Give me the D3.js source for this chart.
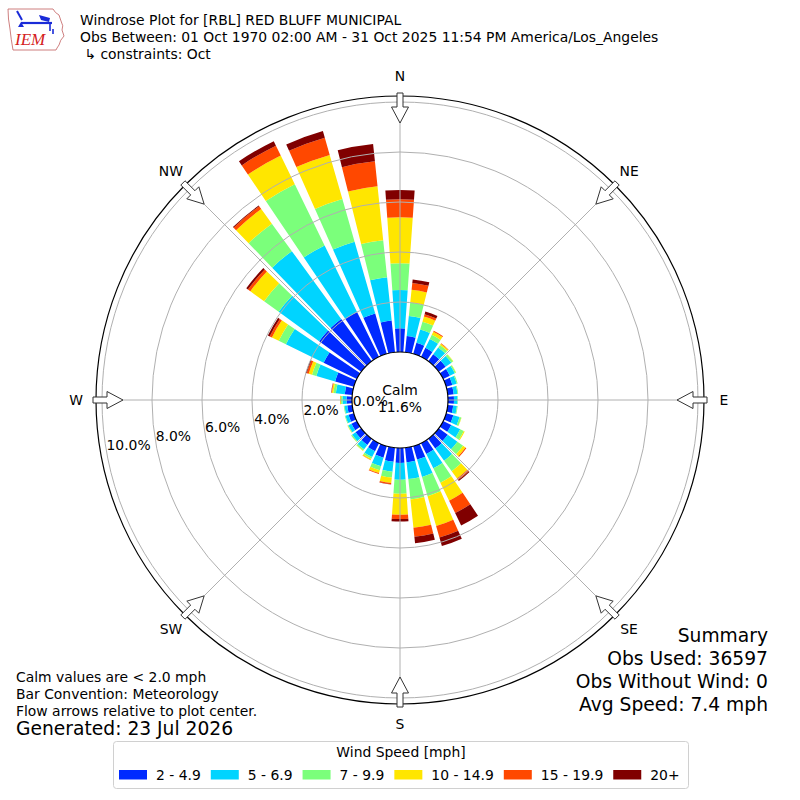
<!DOCTYPE html>
<html lang="en">
<head>
<meta charset="UTF-8">
<title>Windrose Plot for [RBL] RED BLUFF MUNICIPAL</title>
<script src="https://d3js.org/d3.v7.min.js"></script>
<style>
  body { margin: 0; background: #fff; }
  svg { display: block; font-family: 'DejaVu Sans', sans-serif; }
</style>
</head>
<body>
<div id="chart"></div>
<script>
// wind direction bins (degrees, meteorological) and speed bins
const directions = [0, 10, 20, 30, 40, 50, 60, 70, 80, 90, 100, 110,
                    120, 130, 140, 150, 160, 170, 180, 190, 200, 210, 220, 230,
                    240, 250, 260, 270, 280, 290, 300, 310, 320, 330, 340, 350];
const speedBins = ["2 - 4.9", "5 - 6.9", "7 - 9.9", "10 - 14.9", "15 - 19.9", "20+"];
const binColors = ["#002aff", "#00d4ff", "#7bff7b", "#ffe600", "#ff4800", "#800000"];

// percent of observations per direction, one array per speed bin
const pct2to5   = [0.95, 0.65, 0.46, 0.40, 0.34, 0.34, 0.30, 0.26, 0.24, 0.24, 0.22, 0.30,
                   0.36, 0.44, 0.48, 0.48, 0.56, 0.58, 0.60, 0.56, 0.48, 0.36, 0.30, 0.28,
                   0.24, 0.22, 0.20, 0.22, 0.30, 0.78, 1.48, 2.08, 2.08, 2.00, 1.68, 1.28];
const pct5to7   = [1.53, 0.81, 0.55, 0.40, 0.34, 0.28, 0.22, 0.18, 0.15, 0.14, 0.15, 0.26,
                   0.40, 0.48, 0.60, 0.64, 0.72, 0.68, 0.67, 0.41, 0.36, 0.26, 0.22, 0.17,
                   0.14, 0.13, 0.11, 0.16, 0.36, 0.78, 1.68, 2.00, 3.36, 2.96, 2.99, 1.74];
const pct7to10  = [1.07, 0.54, 0.33, 0.18, 0.12, 0.08, 0.05, 0.04, 0.03, 0.02, 0.03, 0.07,
                   0.16, 0.28, 0.52, 0.64, 0.80, 0.82, 0.56, 0.23, 0.16, 0.08, 0.06, 0.04,
                   0.03, 0.03, 0.03, 0.06, 0.10, 0.18, 0.32, 0.72, 1.36, 2.72, 1.77, 1.49];
const pct10to15 = [1.84, 0.51, 0.21, 0.14, 0.06, 0.02, 0.01, 0.00, 0.00, 0.00, 0.00, 0.01,
                   0.04, 0.12, 0.36, 0.80, 1.24, 1.14, 0.84, 0.22, 0.12, 0.05, 0.02, 0.01,
                   0.01, 0.00, 0.00, 0.03, 0.06, 0.14, 0.30, 0.68, 0.72, 1.28, 1.84, 2.17];
const pct15to20 = [0.72, 0.28, 0.10, 0.04, 0.02, 0.00, 0.00, 0.00, 0.00, 0.00, 0.00, 0.00,
                   0.00, 0.04, 0.08, 0.55, 0.48, 0.36, 0.17, 0.05, 0.04, 0.01, 0.00, 0.00,
                   0.00, 0.00, 0.00, 0.01, 0.02, 0.08, 0.10, 0.12, 0.14, 0.44, 0.71, 1.00];
const pct20plus = [0.37, 0.14, 0.11, 0.00, 0.00, 0.00, 0.00, 0.00, 0.00, 0.00, 0.00, 0.00,
                   0.00, 0.00, 0.04, 0.55, 0.36, 0.26, 0.10, 0.01, 0.00, 0.00, 0.00, 0.00,
                   0.00, 0.00, 0.00, 0.00, 0.01, 0.04, 0.08, 0.08, 0.04, 0.20, 0.28, 0.70];

const calmPct = 11.6;
const ringTicks = [0, 2, 4, 6, 8, 10];
const compassLabels = ["N", "NE", "E", "SE", "S", "SW", "W", "NW"];
const compassAngles = [0, 45, 90, 135, 180, 225, 270, 315];

const titleLines = [
  "Windrose Plot for [RBL] RED BLUFF MUNICIPAL",
  "Obs Between: 01 Oct 1970 02:00 AM - 31 Oct 2025 11:54 PM America/Los_Angeles",
  " \u21b3 constraints: Oct"
];
const noteLines = ["Calm values are < 2.0 mph", "Bar Convention: Meteorology", "Flow arrows relative to plot center."];
const generatedText = "Generated: 23 Jul 2026";
const summaryLines = ["Summary", "Obs Used: 36597", "Obs Without Wind: 0", "Avg Speed: 7.4 mph"];

const width = 800, height = 800;
const cx = 400, cy = 400;
const rad = d => d * Math.PI / 180;

const svg = d3.select("#chart").append("svg")
  .attr("width", width)
  .attr("height", height);

// table for the stack
const series = [pct2to5, pct5to7, pct7to10, pct10to15, pct15to20, pct20plus];
const rows = directions.map((dir, i) => {
  const row = { dir };
  speedBins.forEach((b, k) => row[b] = series[k][i]);
  return row;
});
const stacked = d3.stack().keys(speedBins)(rows);

// radius scale: 0% sits on the calm circle
const r = d3.scaleLinear().domain([0, 10]).range([48, 298]);
const rMax = r(10.24);

const plot = svg.append("g").attr("transform", `translate(${cx},${cy})`);

// bars
const arc = d3.arc()
  .innerRadius(d => r(d[0]))
  .outerRadius(d => r(d[1]))
  .startAngle(d => rad(d.data.dir - 4))
  .endAngle(d => rad(d.data.dir + 4));

plot.selectAll("g.bin")
  .data(stacked)
  .join("g")
  .attr("class", "bin")
  .attr("fill", (d, i) => binColors[i])
  .selectAll("path")
  .data(d => d.filter(s => s[1] - s[0] > 0))
  .join("path")
  .attr("d", arc);

// grid rings and spokes (on top of the bars)
plot.selectAll("circle.ring")
  .data(ringTicks.filter(t => t > 0))
  .join("circle")
  .attr("class", "ring")
  .attr("r", d => r(d))
  .attr("fill", "none")
  .attr("stroke", "#b0b0b0")
  .attr("stroke-width", 1);

plot.selectAll("line.spoke")
  .data(compassAngles)
  .join("line")
  .attr("x1", d => r(0) * Math.sin(rad(d)))
  .attr("y1", d => -r(0) * Math.cos(rad(d)))
  .attr("x2", d => rMax * Math.sin(rad(d)))
  .attr("y2", d => -rMax * Math.cos(rad(d)))
  .attr("stroke", "#b0b0b0")
  .attr("stroke-width", 1);

// outer frame
plot.append("circle")
  .attr("r", rMax)
  .attr("fill", "none")
  .attr("stroke", "#000")
  .attr("stroke-width", 1.2);

// calm circle
plot.append("circle")
  .attr("r", r(0))
  .attr("fill", "#fff")
  .attr("stroke", "#000")
  .attr("stroke-width", 1.2);

plot.append("text")
  .attr("text-anchor", "middle")
  .attr("y", -5)
  .attr("font-size", 13.9)
  .text("Calm");
plot.append("text")
  .attr("text-anchor", "middle")
  .attr("y", 12)
  .attr("font-size", 13.9)
  .text(calmPct.toFixed(1) + "%");

// radial tick labels along 260 degrees
const labelAngle = rad(260);
plot.selectAll("text.rlabel")
  .data(ringTicks)
  .join("text")
  .attr("class", "rlabel")
  .attr("x", d => r(d) * Math.sin(labelAngle))
  .attr("y", d => -r(d) * Math.cos(labelAngle) - 2)
  .attr("font-size", 13.9)
  .text(d => d.toFixed(1) + "%");

// flow arrows pointing to the center
const arrowShape = [[307, -3], [293, -3], [293, -8.5], [277, 0], [293, 8.5], [293, 3], [307, 3]];
plot.selectAll("path.arrow")
  .data(compassAngles)
  .join("path")
  .attr("class", "arrow")
  .attr("d", a => {
    const pts = arrowShape.map(([u, v]) => [
      u * Math.sin(rad(a)) + v * Math.cos(rad(a)),
      -u * Math.cos(rad(a)) + v * Math.sin(rad(a))
    ]);
    return "M" + pts.map(p => p.join(",")).join("L") + "Z";
  })
  .attr("fill", "#fff")
  .attr("stroke", "#333")
  .attr("stroke-width", 1);

// compass labels
plot.selectAll("text.compass")
  .data(compassLabels)
  .join("text")
  .attr("class", "compass")
  .attr("x", (d, i) => 324 * Math.sin(rad(compassAngles[i])))
  .attr("y", (d, i) => -324 * Math.cos(rad(compassAngles[i])))
  .attr("text-anchor", "middle")
  .attr("dominant-baseline", "central")
  .attr("font-size", 13.9)
  .text(d => d);

// header
svg.selectAll("text.title")
  .data(titleLines)
  .join("text")
  .attr("class", "title")
  .attr("x", 80)
  .attr("y", (d, i) => 25 + i * 16.8)
  .attr("font-size", 13.9)
  .attr("xml:space", "preserve")
  .style("white-space", "pre")
  .text(d => d);

// IEM logo (rough)
const logo = svg.append("g").attr("transform", "translate(6,7)");
logo.append("path")
  .attr("d", "M2,2 L47,2 Q49,6 53,8 L55,14 Q58,19 56,23 L58,29 Q54,33 53,38 L51,41 L50,43 L7,43 Q5,32 4,22 Q2,12 2,2 Z")
  .attr("fill", "none")
  .attr("stroke", "#c87070")
  .attr("stroke-width", 0.9);
logo.append("line").attr("x1", 15).attr("y1", 16).attr("x2", 46).attr("y2", 16)
  .attr("stroke", "#1a2bd8").attr("stroke-width", 2.2);
logo.append("line").attr("x1", 11).attr("y1", 4).attr("x2", 16).attr("y2", 13)
  .attr("stroke", "#1a2bd8").attr("stroke-width", 2);
logo.append("path").attr("d", "M33,8 L44,11 L43,15 L35,13 Z").attr("fill", "#1a2bd8");
logo.append("path").attr("d", "M12,20 L15,15 L18,20 Z").attr("fill", "#1a2bd8");
logo.append("line").attr("x1", 44).attr("y1", 16).attr("x2", 44).attr("y2", 24)
  .attr("stroke", "#1a2bd8").attr("stroke-width", 1.6);
logo.append("line").attr("x1", 47).attr("y1", 22).attr("x2", 47).attr("y2", 27)
  .attr("stroke", "#1a2bd8").attr("stroke-width", 1.6);
logo.append("text")
  .attr("x", 9).attr("y", 38)
  .attr("font-family", "'Liberation Serif', serif")
  .attr("font-style", "italic")
  .attr("font-size", 17)
  .attr("fill", "#d42020")
  .text("IEM");

// notes bottom left
svg.selectAll("text.note")
  .data(noteLines)
  .join("text")
  .attr("class", "note")
  .attr("x", 16)
  .attr("y", (d, i) => 682 + i * 17)
  .attr("font-size", 13.9)
  .text(d => d);
svg.append("text")
  .attr("x", 16)
  .attr("y", 735)
  .attr("font-size", 18.7)
  .text(generatedText);

// summary bottom right
svg.selectAll("text.summary")
  .data(summaryLines)
  .join("text")
  .attr("class", "summary")
  .attr("x", 768)
  .attr("y", (d, i) => 642 + i * 23)
  .attr("text-anchor", "end")
  .attr("font-size", 18.7)
  .text(d => d);

// legend
const legend = svg.append("g");
legend.append("rect")
  .attr("x", 113.5).attr("y", 741.5)
  .attr("width", 575).attr("height", 47)
  .attr("rx", 3)
  .attr("fill", "#fff")
  .attr("stroke", "#d0d0d0");
legend.append("text")
  .attr("x", 401).attr("y", 757)
  .attr("text-anchor", "middle")
  .attr("font-size", 13.9)
  .text("Wind Speed [mph]");
let lx = 119;
speedBins.forEach((b, i) => {
  legend.append("rect")
    .attr("x", lx).attr("y", 770)
    .attr("width", 28).attr("height", 9.5)
    .attr("fill", binColors[i]);
  const t = legend.append("text")
    .attr("x", lx + 37).attr("y", 779.5)
    .attr("font-size", 13.9)
    .text(b);
  lx += 37 + t.node().getComputedTextLength() + 10;
});
</script>
</body>
</html>
